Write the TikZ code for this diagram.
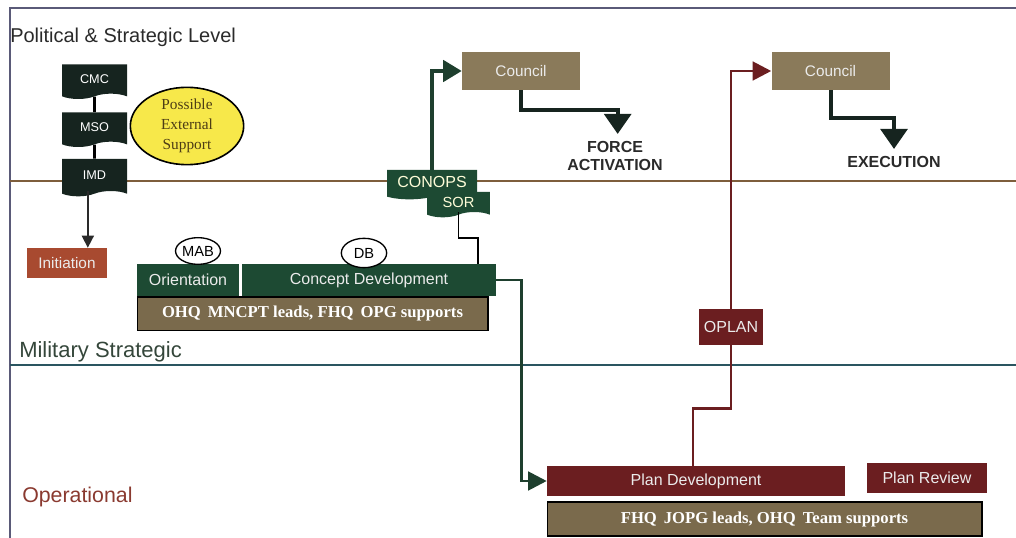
\documentclass[tikz,border=0pt]{standalone}
\usepackage{fontspec}
\setmainfont{Liberation Serif}
\setsansfont{Liberation Sans}
\usetikzlibrary{positioning,arrows.meta,shapes.geometric,shapes.symbols}
\definecolor{framecol}{HTML}{5A5A78}
\definecolor{lineone}{HTML}{7E5E3C}
\definecolor{linetwo}{HTML}{2A5560}
\definecolor{blackbox}{HTML}{16241F}
\definecolor{greenbox}{HTML}{1D4A33}
\definecolor{greenline}{HTML}{1E3F2E}
\definecolor{councilcol}{HTML}{8A7A5A}
\definecolor{olivecol}{HTML}{7A6A4C}
\definecolor{planred}{HTML}{6B1E20}
\definecolor{initcol}{HTML}{A84A30}
\definecolor{suppyellow}{HTML}{F7E84A}
\definecolor{supptext}{HTML}{4D3D15}
\definecolor{opcol}{HTML}{8A3A30}
\definecolor{milcol}{HTML}{34463A}
\definecolor{darktext}{HTML}{2A2A2A}

\begin{document}
\begin{tikzpicture}[
			x=0.75pt, y=-0.75pt,
			font=\sffamily,
			levellabel/.style={anchor=west, inner sep=0pt},
			docbox/.style={tape, tape bend top=none, tape bend height=4pt, inner sep=0pt,
					minimum width=48.75pt, minimum height=26pt, fill=blackbox, text=white,
					font=\sffamily\fontsize{9.5}{11}\selectfont},
			flatbox/.style={rectangle, inner sep=0pt, text=white!92!black,
					font=\sffamily\fontsize{12}{14}\selectfont},
			leadbox/.style={rectangle, inner sep=0pt, draw=black, line width=1pt, fill=olivecol,
					text=white, font=\rmfamily\bfseries\fontsize{12.5}{14}\selectfont},
			board/.style={ellipse, draw=black, line width=1pt, fill=white, inner sep=0pt,
					font=\sffamily\fontsize{11}{12}\selectfont},
			outcome/.style={align=center, text=darktext,
					font=\sffamily\bfseries\fontsize{12}{13.5}\selectfont},
			thickarrow/.style={line width=3pt, -{Triangle[length=15pt, width=20pt]}}
		]
		\useasboundingbox (0,0) rectangle (1016,538);
		\draw[framecol, line width=0.8pt] (1016,8) -- (10,8) -- (10,538);
		\draw[lineone, line width=1.2pt] (10,181) -- (1016,181);
		\draw[linetwo, line width=1.2pt] (10,365) -- (1016,365);

		\node[levellabel, text=darktext, font=\sffamily\fontsize{15}{17}\selectfont] (polit) at (10,37) {Political \& Strategic Level};
		\node[levellabel, text=milcol, font=\sffamily\fontsize{16.5}{18}\selectfont] (milstrat) at (19,352) {Military Strategic};
		\node[levellabel, text=opcol, font=\sffamily\fontsize{16}{18}\selectfont] (operat) at (22,497) {Operational};

		\node[docbox] (cmc) at (94.5,79) {CMC};
		\node[docbox] (mso) at (94.5,127) {MSO};
		\node[docbox, minimum height=28pt] (imd) at (94.5,175) {IMD};
		\draw[black, line width=2pt] (cmc) -- (mso);
		\draw[black, line width=2pt] (mso) -- (imd);
		\node[ellipse, draw=black, line width=1.2pt, fill=suppyellow, minimum width=85pt,
			minimum height=58pt, inner sep=0pt, align=center, text=supptext,
			font=\rmfamily\fontsize{11.5}{15}\selectfont] (support) at (187,126)
			{Possible\\External\\Support};

		\node[flatbox, fill=initcol, minimum width=60pt, minimum height=22.5pt,
			font=\sffamily\fontsize{11.5}{13}\selectfont] (init) at (67,263) {Initiation};
		\draw[darktext, line width=1.2pt, -{Triangle[length=9pt, width=9pt]}]
			([xshift=-5pt]imd.south) -- ([xshift=-5pt]imd.south |- init.north);

		\node[flatbox, fill=greenbox, minimum width=76.5pt, minimum height=24pt] (orient) at (188,280) {Orientation};
		\node[flatbox, fill=greenbox, minimum width=190.5pt, minimum height=24pt] (concept) at (369,280) {Concept Development};
		\node[board, minimum width=28pt, minimum height=20pt] (mab) at (198,251) {MAB};
		\node[board, minimum width=34pt, minimum height=22pt] (db) at (364,253) {DB};
		\node[leadbox, minimum width=263pt, minimum height=25pt] (ohq) at (312.5,313.5)
			{OHQ\, MNCPT leads, FHQ\, OPG supports};

		\node[docbox, fill=greenbox, text=white!85!yellow, minimum width=67.5pt, minimum height=22pt,
			font=\sffamily\fontsize{12}{14}\selectfont] (conops) at (432,182) {CONOPS};
		\node[docbox, fill=greenbox, text=white!85!yellow, minimum width=47pt, minimum height=19pt,
			font=\sffamily\fontsize{11}{13}\selectfont] (sor) at (458.5,202) {SOR};
		\draw[black, line width=1.2pt] (sor.south) -- ++(0,26) -| ([xshift=81.75pt]concept.north);

		\node[flatbox, fill=councilcol, minimum width=88.5pt, minimum height=28.5pt,
			font=\sffamily\fontsize{11.5}{13}\selectfont] (councila) at (521,71) {Council};
		\node[flatbox, fill=councilcol, minimum width=88.5pt, minimum height=28.5pt,
			font=\sffamily\fontsize{11.5}{13}\selectfont] (councilb) at (830.5,71) {Council};
		\draw[greenline, line width=3pt, -{Triangle[length=14pt, width=16pt]}] (conops.north) |- (councila.west);

		\node[outcome] (force) at (615,156) {FORCE\\ACTIVATION};
		\node[outcome] (exec) at (894,162) {EXECUTION};
		\draw[blackbox, thickarrow] (councila.south) -- ++(0,20) -| ([xshift=2pt,yshift=2pt]force.north);
		\draw[blackbox, thickarrow] (councilb.south) -- ++(0,28) -| ([yshift=2pt]exec.north);

		\node[flatbox, fill=planred, minimum width=48pt, minimum height=27pt] (oplan) at (731,327) {OPLAN};
		\node[flatbox, fill=planred, minimum width=223.5pt, minimum height=22.5pt] (plandev) at (696,481) {Plan Development};
		\node[flatbox, fill=planred, minimum width=90pt, minimum height=22.5pt] (review) at (927,478) {Plan Review};
		\node[leadbox, minimum width=326pt, minimum height=25.5pt] (fhq) at (764.5,519)
			{FHQ\, JOPG leads, OHQ\, Team supports};

		\draw[planred, line width=2.2pt] ([xshift=-2.25pt]plandev.north) -- ++(0,-57) -| (oplan.south);
		\draw[planred, line width=2.2pt, -{Triangle[length=14pt, width=14pt]}] (oplan.north) |- (councilb.west);
		\draw[greenline, line width=2.2pt, -{Triangle[length=14pt, width=14pt]}] (concept.east) -- ++(25,0) |- (plandev.west);
	\end{tikzpicture}
\end{document}
